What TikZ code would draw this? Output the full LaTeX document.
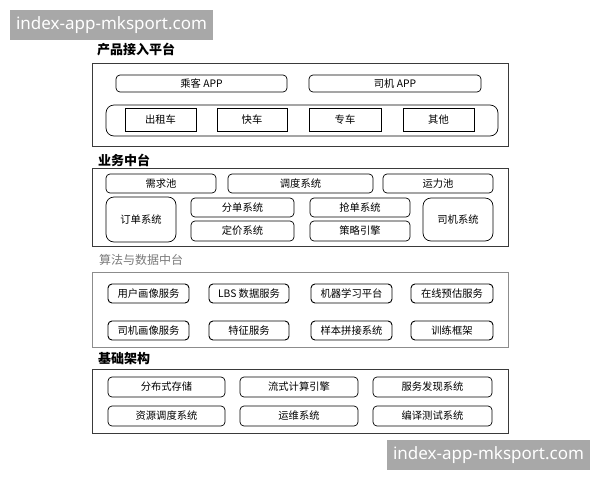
\documentclass[tikz,border=0pt]{standalone}
\usepackage{fontspec}
\setmainfont{Noto Sans CJK SC}
\newfontfamily\wmfont{Noto Sans}
\definecolor{wmgray}{HTML}{A8A8A8}
\definecolor{framegray}{HTML}{3A3A3A}
\definecolor{lightframe}{HTML}{8C8C8C}
\definecolor{titlegray}{HTML}{7A7A7A}
\newcommand\mybox[7]{\node[#6, minimum width={#4-#2}, minimum height={#5-#3}] (#1) at ({(#2+#4)/2},{(#3+#5)/2}) {#7};}
\tikzset{
  outer/.style={draw=framegray, line width=0.9pt, inner sep=0pt},
  outerlight/.style={draw=lightframe, line width=1pt, inner sep=0pt},
  rbox/.style={draw=black, line width=0.7pt, rounded corners=4pt, inner sep=0pt, font=\fontsize{10.3}{11}\selectfont},
  bigr/.style={draw=black, line width=0.7pt, rounded corners=8pt, inner sep=0pt, font=\fontsize{10.3}{11}\selectfont},
  sqbox/.style={draw=black, line width=0.7pt, inner sep=0pt, font=\fontsize{10.3}{11}\selectfont},
  abox/.style={draw=black, line width=0.9pt, rounded corners=4pt, inner sep=0pt, font=\fontsize{10.3}{11}\selectfont},
  sectitle/.style={anchor=west, inner sep=0pt, font=\fontsize{13}{14}\selectfont\bfseries},
  wm/.style={fill=wmgray, text=white, inner sep=0pt, font=\wmfont\fontsize{17}{18}\selectfont},
}
\begin{document}
\begin{tikzpicture}[x=1pt,y=-1pt]
\useasboundingbox[fill=white] (0,0) rectangle (600,480);
% watermarks
\mybox{wm1}{10}{10}{213}{40}{wm}{index-app-mksport.com}
\mybox{wm2}{387}{440}{590}{470}{wm}{index-app-mksport.com}
% section 1
\node[sectitle] (t1) at (97,49) {产品接入平台};
\mybox{s1}{92}{63}{508}{146}{outer}{}
\mybox{papp}{116}{75}{287}{92}{rbox}{乘客 APP}
\mybox{dapp}{309}{75}{481}{92}{rbox}{司机 APP}
\mybox{cont}{106}{105}{498}{136}{bigr}{}
\mybox{czc}{125}{108}{196}{131}{sqbox}{出租车}
\mybox{kc}{217}{108}{287}{131}{sqbox}{快车}
\mybox{zc}{309}{108}{381}{131}{sqbox}{专车}
\mybox{qt}{403}{108}{474}{131}{sqbox}{其他}
% section 2
\node[sectitle] (t2) at (98,160) {业务中台};
\mybox{s2}{92}{168}{508}{246}{outer}{}
\mybox{xqc}{106}{174}{216}{193}{rbox}{需求池}
\mybox{ddxt}{228}{174}{373}{193}{rbox}{调度系统}
\mybox{ylc}{383}{174}{493}{193}{rbox}{运力池}
\mybox{dd}{106}{197}{176}{242}{bigr}{订单系统}
\mybox{fd}{191}{198}{294}{217}{rbox}{分单系统}
\mybox{dj}{191}{221}{294}{241}{rbox}{定价系统}
\mybox{qd}{310}{198}{410}{217}{rbox}{抢单系统}
\mybox{cl}{310}{221}{410}{241}{rbox}{策略引擎}
\mybox{sj}{423}{198}{493}{241}{bigr}{司机系统}
% section 3
\node[anchor=west, inner sep=0pt, text=titlegray, font=\fontsize{12}{13}\selectfont] (t3) at (99,260) {算法与数据中台};
\mybox{s3}{92}{272}{508}{347}{outerlight}{}
\mybox{yhhx}{108}{284}{189}{303}{abox}{用户画像服务}
\mybox{lbs}{209}{284}{289}{303}{abox}{LBS 数据服务}
\mybox{jqxx}{311}{284}{392}{303}{abox}{机器学习平台}
\mybox{zxyg}{411}{284}{493}{303}{abox}{在线预估服务}
\mybox{sjhx}{108}{321}{189}{340}{abox}{司机画像服务}
\mybox{tz}{209}{321}{289}{340}{abox}{特征服务}
\mybox{ybpj}{311}{321}{392}{340}{abox}{样本拼接系统}
\mybox{xlkj}{411}{321}{493}{340}{abox}{训练框架}
% section 4
\node[sectitle] (t4) at (98,359) {基础架构};
\mybox{s4}{92}{369}{508}{433}{outer}{}
\mybox{fbs}{108}{377}{225}{397}{rbox}{分布式存储}
\mybox{lsjs}{240}{377}{358}{397}{rbox}{流式计算引擎}
\mybox{fwfx}{373}{377}{492}{397}{rbox}{服务发现系统}
\mybox{zydd}{108}{406}{225}{426}{rbox}{资源调度系统}
\mybox{ywxt}{240}{406}{358}{426}{rbox}{运维系统}
\mybox{byxt}{373}{406}{492}{426}{rbox}{编译测试系统}
\end{tikzpicture}
\end{document}
